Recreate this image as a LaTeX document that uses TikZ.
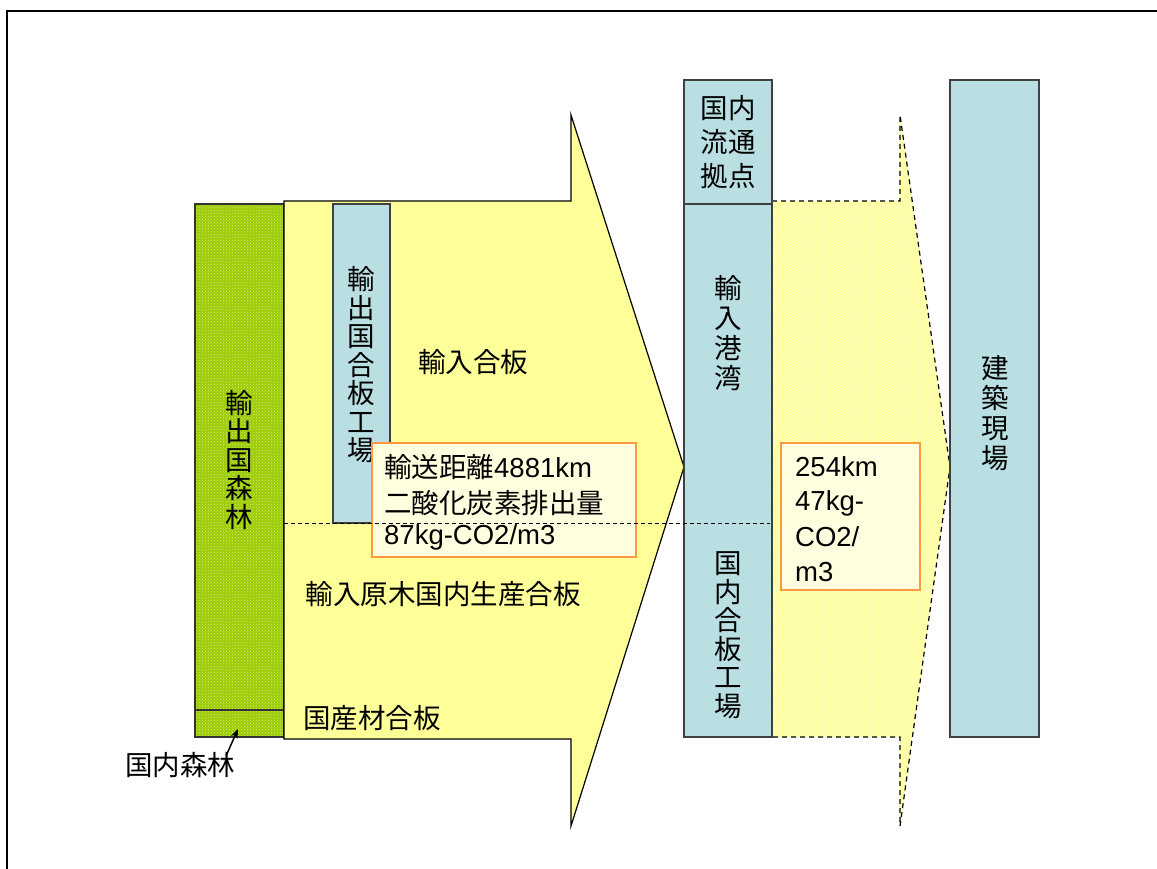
\documentclass[tikz,border=0pt]{standalone}
\usepackage{fontspec}
\setmainfont{Liberation Sans}
\newfontfamily\jp{Noto Sans CJK JP}
\usetikzlibrary{arrows.meta,patterns}
\definecolor{yel}{HTML}{FFFF99}
\definecolor{lyel}{HTML}{FFFFA0}
\definecolor{grn}{HTML}{9CCC00}
\definecolor{blu}{HTML}{B9DFE3}
\definecolor{org}{HTML}{FF9940}
\begin{document}
\begin{tikzpicture}[x=1pt,y=-1pt,
  every node/.style={font=\jp\fontsize{27.5}{28}\selectfont, inner sep=0pt},
  bluebox/.style={draw=black!75, line width=1.2pt, fill=blu},
  vtext/.style={align=center, font=\jp\fontsize{27.5}{28.5}\selectfont},
  orangebox/.style={draw=org, line width=1.2pt, fill=yel!30!white},
  lat/.style={anchor=west, font=\fontsize{27.5}{28}\selectfont}]
\useasboundingbox (0,0) rectangle (1157,869);
% frame
\draw[line width=2pt] (7,875) -- (7,11) -- (1160,11);
% green forest bar
\fill[grn] (195,204) rectangle (284,737);
\fill[pattern=crosshatch dots, pattern color=white!55!grn] (195,204) rectangle (284,737);
\draw[draw=black!80, line width=1.2pt] (195,204) rectangle (284,737);
\draw[black!80, line width=1.2pt] (195,710) -- (284,710);
\node[vtext] (forest) at (239,460) {輸\\出\\国\\森\\林};
% big yellow arrow
\draw[fill=yel, line width=1.2pt] (284,201) -- (571,201) -- (571,115) -- (684,467) -- (571,826) -- (571,739) -- (284,739) -- cycle;
% exporting plywood factory
\draw[bluebox] (333,204) rectangle (390,523);
\node[vtext] (expfac) at (361,365) {輸\\出\\国\\合\\板\\工\\場};
\node (impply) at (473,362) {輸入合板};
\node (implog) at (443,594) {輸入原木国内生産合板};
\node (domply) at (372,718) {国産材合板};
% dashed yellow arrow
\fill[lyel] (772,201) -- (900,201) -- (900,115) -- (950,467) -- (900,826) -- (900,737) -- (772,737) -- cycle;
\fill[pattern=crosshatch dots, pattern color=white!70!lyel] (772,201) -- (900,201) -- (900,115) -- (950,467) -- (900,826) -- (900,737) -- (772,737) -- cycle;
\draw[dashed, line width=1.2pt, dash pattern=on 5pt off 4pt] (772,201) -- (900,201) -- (900,115) -- (950,467) -- (900,826) -- (900,737) -- (772,737);
% port column
\draw[bluebox] (684,80) rectangle (772,737);
\draw[black!75, line width=1.2pt] (684,204) -- (772,204);
\node[align=center, font=\jp\fontsize{27.5}{34}\selectfont] (hub) at (728,142) {国内\\流通\\拠点};
\node[vtext, font=\jp\fontsize{27.5}{30}\selectfont] (port) at (728,333) {輸\\入\\港\\湾};
\node[vtext] (domfac) at (728,635) {国\\内\\合\\板\\工\\場};
% site
\draw[bluebox] (950,80) rectangle (1039,737);
\node[vtext, font=\jp\fontsize{27.5}{30}\selectfont] (site) at (995,413) {建\\築\\現\\場};
% orange boxes
\draw[orangebox] (372,443) rectangle (636,557);
\node[lat] (o1a) at (384,467) {{\jp 輸送距離}4881km};
\node[lat] (o1b) at (384,503) {{\jp 二酸化炭素排出量}};
\node[lat] (o1c) at (384,537) {87kg-CO2/m3};
\draw[orangebox] (781,443) rectangle (920,590);
\node[lat] (o2a) at (795,467) {254km};
\node[lat] (o2b) at (795,503) {47kg-};
\node[lat] (o2c) at (795,537) {CO2/};
\node[lat] (o2d) at (795,572) {m3};
% dashed divider
\draw[dashed, line width=1pt, dash pattern=on 4pt off 3pt] (284,523) -- (770,523);
% domestic forest label
\node (domforest) at (180,765) {国内森林};
\coordinate (forestpt) at (238,729);
\draw[-{Stealth[length=9pt,width=7pt]}, line width=1.5pt] (226,756) -- (forestpt);
\end{tikzpicture}
\end{document}
